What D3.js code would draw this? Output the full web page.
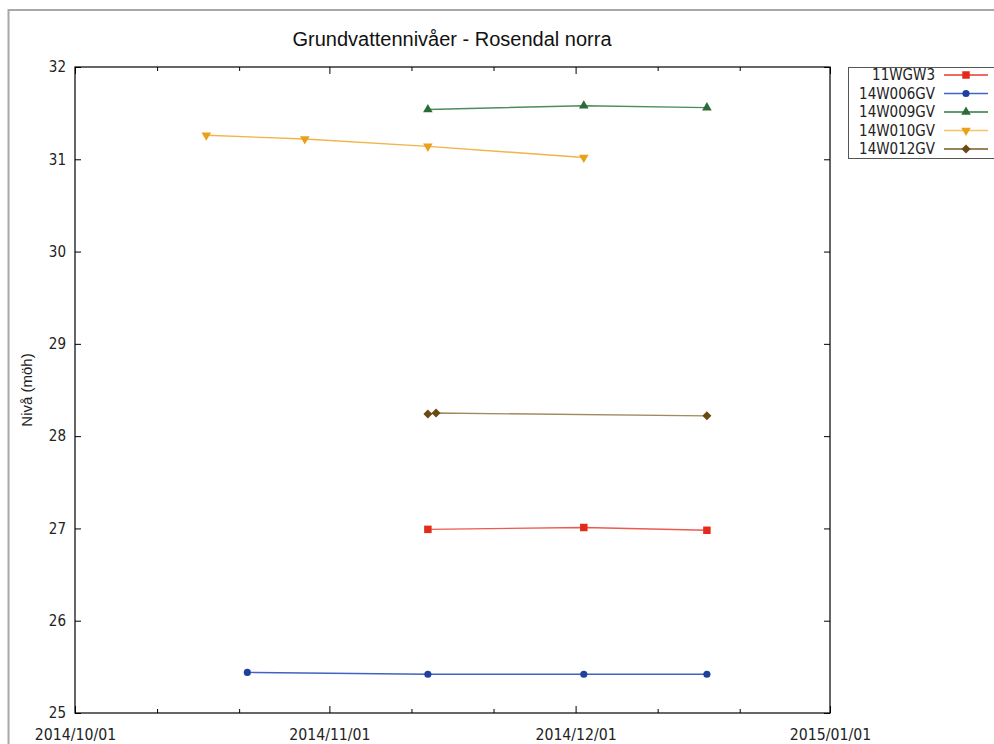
<!DOCTYPE html>
<html>
<head>
<meta charset="utf-8">
<script src="https://cdn.jsdelivr.net/npm/d3@7"></script>
<style>
  html, body { margin: 0; padding: 0; background: #fff; }
  svg { display: block; }
  .tick text { font-family: "DejaVu Sans Condensed", "DejaVu Sans", sans-serif; font-stretch: condensed; font-size: 15px; fill: #222; }
  .xlab .tick text { font-size: 15.7px; }
</style>
</head>
<body>
<svg id="chart" width="994" height="744"></svg>
<script>
// ---- data ----
const title = "Grundvattennivåer - Rosendal norra";
const yLabel = "Nivå (möh)";
const seriesNames = ["11WGW3", "14W006GV", "14W009GV", "14W010GV", "14W012GV"];
const markerColors = ["#e32b1c", "#1f409c", "#2c6b38", "#e9a11a", "#6b4a12"];
const lineColors = ["#ee5a4e", "#3f63c0", "#4e8c5c", "#f2b447", "#a08a60"];
const legendLineColors = ["#e83a2c", "#3f66c4", "#2f7a40", "#f5c46a", "#7a5a22"];
const markerShapes = ["square", "circle", "triangle", "triangleDown", "diamond"];

const dates11WGW3 = ["2014-11-13", "2014-12-02", "2014-12-17"];
const vals11WGW3 = [26.99, 27.01, 26.98];
const dates14W006GV = ["2014-10-22", "2014-11-13", "2014-12-02", "2014-12-17"];
const vals14W006GV = [25.44, 25.42, 25.42, 25.42];
const dates14W009GV = ["2014-11-13", "2014-12-02", "2014-12-17"];
const vals14W009GV = [31.54, 31.58, 31.56];
const dates14W010GV = ["2014-10-17", "2014-10-29", "2014-11-13", "2014-12-02"];
const vals14W010GV = [31.26, 31.22, 31.14, 31.02];
const dates14W012GV = ["2014-11-13", "2014-11-14", "2014-12-17"];
const vals14W012GV = [28.24, 28.25, 28.22];

const xDomain = ["2014-10-01", "2015-01-01"];
const xMajorTicks = ["2014-10-01", "2014-11-01", "2014-12-01", "2015-01-01"];
const xMinorTicks = ["2014-10-11", "2014-10-21", "2014-11-11", "2014-11-21", "2014-12-11", "2014-12-21"];
const yDomain = [25, 32];
const yTicks = [25, 26, 27, 28, 29, 30, 31, 32];

// ---- build ----
const parse = d3.utcParse("%Y-%m-%d");
const allDates = [dates11WGW3, dates14W006GV, dates14W009GV, dates14W010GV, dates14W012GV];
const allVals = [vals11WGW3, vals14W006GV, vals14W009GV, vals14W010GV, vals14W012GV];
const series = seriesNames.map((name, i) => ({
  name, shape: markerShapes[i], mc: markerColors[i], lc: lineColors[i], llc: legendLineColors[i],
  points: allDates[i].map((d, j) => ({ date: parse(d), value: allVals[i][j] }))
}));

const L = 75, R = 830, T = 67, B = 713;
const svg = d3.select("#chart");

// outer frame
svg.append("rect").attr("x", 8.5).attr("y", 10).attr("width", 1000).attr("height", 800)
  .attr("fill", "none").attr("stroke", "#a8a8a8").attr("stroke-width", 2);

const x = d3.scaleUtc().domain(xDomain.map(parse)).range([L, R]);
const y = d3.scaleLinear().domain(yDomain).range([B, T]);

// title
svg.append("text").attr("x", 452).attr("y", 46).attr("text-anchor", "middle")
  .attr("font-family", "Liberation Sans, Arial, sans-serif").attr("font-size", 20).attr("fill", "#111")
  .text(title);

// y label
svg.append("text").attr("transform", `translate(32,${(T + B) / 2}) rotate(-90)`)
  .attr("text-anchor", "middle").attr("font-family", "Liberation Sans, Arial, sans-serif")
  .attr("font-size", 15).attr("fill", "#222").text(yLabel);

const fmt = d3.utcFormat("%Y/%m/%d");

// bottom axis (major with labels)
svg.append("g").attr("class", "xlab").attr("transform", `translate(0,${B})`)
  .call(d3.axisBottom(x).tickValues(xMajorTicks.map(parse)).tickFormat(fmt).tickSizeInner(-7).tickSizeOuter(0).tickPadding(16));
svg.append("g").attr("transform", `translate(0,${B})`)
  .call(d3.axisBottom(x).tickValues(xMinorTicks.map(parse)).tickFormat("").tickSizeInner(-4).tickSizeOuter(0));
// top axis
svg.append("g").attr("transform", `translate(0,${T})`)
  .call(d3.axisTop(x).tickValues(xMajorTicks.map(parse)).tickFormat("").tickSizeInner(-7).tickSizeOuter(0));
svg.append("g").attr("transform", `translate(0,${T})`)
  .call(d3.axisTop(x).tickValues(xMinorTicks.map(parse)).tickFormat("").tickSizeInner(-4).tickSizeOuter(0));
// left axis
svg.append("g").attr("transform", `translate(${L},0)`)
  .call(d3.axisLeft(y).tickValues(yTicks).tickFormat(d3.format("d")).tickSizeInner(-6).tickSizeOuter(0).tickPadding(9));
// right axis
svg.append("g").attr("transform", `translate(${R},0)`)
  .call(d3.axisRight(y).tickValues(yTicks).tickFormat("").tickSizeInner(-6).tickSizeOuter(0));

svg.selectAll(".domain").remove();
svg.selectAll(".tick line").attr("stroke", "#000");

// plot border
svg.append("rect").attr("x", L).attr("y", T).attr("width", R - L).attr("height", B - T)
  .attr("fill", "none").attr("stroke", "#000").attr("stroke-width", 1.2);

// symbols
const diamondSym = { draw(ctx, size) { const r = Math.sqrt(size) / 2; ctx.moveTo(0, -r); ctx.lineTo(r, 0); ctx.lineTo(0, r); ctx.lineTo(-r, 0); ctx.closePath(); } };
function symbolPath(shape) {
  switch (shape) {
    case "square": return d3.symbol(d3.symbolSquare, 56)();
    case "circle": return d3.symbol(d3.symbolCircle, 40)();
    case "triangle": return d3.symbol(d3.symbolTriangle, 40)();
    case "triangleDown": return d3.symbol(d3.symbolTriangle, 40)();
    case "diamond": return d3.symbol(diamondSym, 81)();
  }
}
function symbolRot(shape) { return shape === "triangleDown" ? " rotate(180)" : ""; }

const line = d3.line().x(d => x(d.date)).y(d => y(d.value));

series.forEach(s => {
  svg.append("path").attr("d", line(s.points)).attr("fill", "none")
    .attr("stroke", s.lc).attr("stroke-width", 1.4);
});
series.forEach(s => {
  svg.selectAll(null).data(s.points).enter().append("path")
    .attr("d", symbolPath(s.shape))
    .attr("transform", d => `translate(${x(d.date)},${y(d.value)})${symbolRot(s.shape)}`)
    .attr("fill", s.mc);
});

// legend
const lg = svg.append("g");
lg.append("rect").attr("x", 848.5).attr("y", 67.5).attr("width", 160).attr("height", 91)
  .attr("fill", "#fff").attr("stroke", "#555").attr("stroke-width", 1);
series.forEach((s, i) => {
  const cy = 75 + i * 18.5;
  lg.append("text").attr("x", 935).attr("y", cy).attr("dy", "0.35em").attr("text-anchor", "end")
    .attr("font-family", "DejaVu Sans Condensed, DejaVu Sans, sans-serif").attr("font-stretch", "condensed")
    .attr("font-size", 15).attr("fill", "#222").text(s.name);
  lg.append("line").attr("x1", 944).attr("x2", 988).attr("y1", cy).attr("y2", cy)
    .attr("stroke", s.llc).attr("stroke-width", 1.4);
  lg.append("path").attr("d", symbolPath(s.shape))
    .attr("transform", `translate(966,${cy})${symbolRot(s.shape)}`).attr("fill", s.mc);
});
</script>
</body>
</html>
